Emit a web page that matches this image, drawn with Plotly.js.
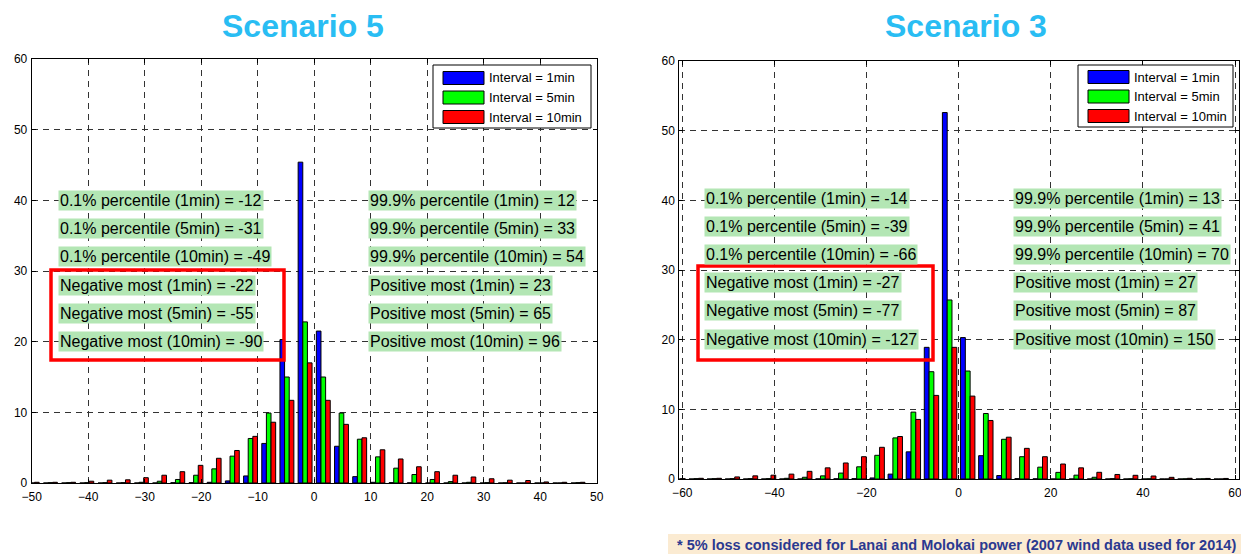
<!DOCTYPE html>
<html>
<head>
<meta charset="utf-8">
<script src="https://cdn.plot.ly/plotly-3.0.1.min.js"></script>
<style>html,body{margin:0;padding:0;background:#fff;}#chart{width:1241px;height:554px;}</style>
</head>
<body>
<div id="chart"></div>
<script>
// ---------- DATA ----------
// Scenario 5 (left): bin centres and histogram heights (%)
const binsS5 = [-49.91,-46.69,-43.47,-40.25,-37.03,-33.81,-30.59,-27.37,-24.15,-20.93,-17.71,-14.49,-11.27,-8.05,-4.83,-1.61,
                1.61,4.83,8.05,11.27,14.49,17.71,20.93,24.15,27.37,30.59,33.81,37.03,40.25,43.47,46.69];
const s5_1min  = [0,0,0,0,0,0,0,0,0.05,0.05,0.1,0.3,1.0,5.6,20.3,45.4,
                  21.5,5.2,0.9,0.1,0.05,0.03,0,0,0,0,0,0,0,0,0];
const s5_5min  = [0,0.05,0.05,0.05,0.05,0.05,0.1,0.25,0.5,1.1,2.0,3.8,6.3,9.9,15.0,22.8,
                  15.0,9.9,6.2,3.7,2.1,1.2,0.5,0.2,0.1,0.05,0.03,0,0,0,0.05];
const s5_10min = [0.1,0.1,0.1,0.25,0.4,0.45,0.75,1.1,1.6,2.5,3.5,4.6,6.6,8.6,11.7,17.0,
                  11.7,8.3,6.4,4.7,3.4,2.3,1.6,1.1,0.85,0.6,0.4,0.35,0.15,0.1,0.1];

// Scenario 3 (right)
const binsS3 = [-60.92,-56.99,-53.06,-49.13,-45.20,-41.27,-37.34,-33.41,-29.48,-25.55,-21.62,-17.69,-13.76,-9.83,-5.90,-1.97,
                1.97,5.90,9.83,13.76,17.69,21.62,25.55,29.48,33.41,37.34,41.27,45.20,49.13,53.06,56.99];
const s3_1min  = [0,0,0,0,0,0,0,0,0.02,0.03,0.05,0.15,0.7,3.9,18.9,52.6,
                  20.3,3.35,0.5,0.05,0.02,0,0,0,0,0,0,0,0,0,0];
const s3_5min  = [0,0.05,0.05,0.05,0.05,0.05,0.1,0.25,0.45,0.85,1.75,3.4,5.9,9.6,15.4,25.7,
                  15.5,9.4,5.7,3.2,1.7,0.95,0.55,0.25,0.05,0.03,0.02,0,0.02,0.02,0];
const s3_10min = [0.05,0.1,0.1,0.3,0.45,0.55,0.7,1.1,1.6,2.3,3.2,4.55,6.1,8.55,12.0,18.9,
                  11.9,8.4,6.0,4.4,3.2,2.15,1.6,0.96,0.65,0.53,0.43,0.24,0.1,0.08,0.08];

const seriesNames = ['Interval = 1min','Interval = 5min','Interval = 10min'];
const seriesColors = ['#0000ff','#00ff00','#ff0000'];

const titles = ['Scenario 5','Scenario 3'];
const xTicksS5 = [-50,-40,-30,-20,-10,0,10,20,30,40,50];
const xTicksS3 = [-60,-40,-20,0,20,40,60];
const yTicks = [0,10,20,30,40,50,60];

const statsS5Left  = ['0.1% percentile (1min) = -12','0.1% percentile (5min) = -31','0.1% percentile (10min) = -49',
                      'Negative most (1min) = -22','Negative most (5min) = -55','Negative most (10min) = -90'];
const statsS5Right = ['99.9% percentile (1min) = 12','99.9% percentile (5min) = 33','99.9% percentile (10min) = 54',
                      'Positive most (1min) = 23','Positive most (5min) = 65','Positive most (10min) = 96'];
const statsS3Left  = ['0.1% percentile (1min) = -14','0.1% percentile (5min) = -39','0.1% percentile (10min) = -66',
                      'Negative most (1min) = -27','Negative most (5min) = -77','Negative most (10min) = -127'];
const statsS3Right = ['99.9% percentile (1min) = 13','99.9% percentile (5min) = 41','99.9% percentile (10min) = 70',
                      'Positive most (1min) = 27','Positive most (5min) = 87','Positive most (10min) = 150'];
const footnote = '* 5% loss considered for Lanai and Molokai power (2007 wind data used for 2014)';

// ---------- LAYOUT HELPERS ----------
const W = 1241, H = 554, MT = 59, MB = 71, PH = H - MT - MB;
const px = v => v / W;                 // pixel x -> paper x
const py = v => (H - MB - v) / PH;     // pixel y -> paper y
const FONT = 'Liberation Sans, Arial, Helvetica, sans-serif';

const traces = [];
function addBars(bins, sets, xa, ya, w) {
  sets.forEach((vals, i) => {
    traces.push({
      type: 'bar', x: bins, y: vals, name: seriesNames[i],
      width: w, offset: -1.5 * w + i * w,
      marker: {color: seriesColors[i], line: {color: '#000', width: 1}},
      xaxis: xa, yaxis: ya, showlegend: false, hoverinfo: 'x+y+name'
    });
  });
}
addBars(binsS5, [s5_1min, s5_5min, s5_10min], 'x', 'y', 0.82);
addBars(binsS3, [s3_1min, s3_5min, s3_10min], 'x2', 'y2', 1.04);

const axBase = {
  showline: true, mirror: 'ticks', linecolor: '#000', linewidth: 1,
  ticks: 'inside', ticklen: 4, tickcolor: '#000',
  showgrid: true, gridcolor: '#333', gridwidth: 1, griddash: '6px,5px',
  zeroline: false, tickfont: {family: FONT, size: 12, color: '#000'},
  ticklabeloverflow: 'allow', fixedrange: true
};
const xExtra = {ticklabelstandoff: 3};
const yExtra = {ticklabelstandoff: 1};

const annotations = [];
const shapes = [];

// titles
[[303, titles[0]], [966, titles[1]]].forEach(([cx, t]) => {
  annotations.push({xref: 'paper', yref: 'paper', x: px(cx), y: py(26), xanchor: 'center', yanchor: 'middle',
    text: '<b>' + t + '</b>', showarrow: false, font: {family: FONT, size: 32, color: '#29bdf3'}});
});

// stat boxes
function addStats(list, leftPx, rowsPx) {
  list.forEach((t, i) => {
    annotations.push({xref: 'paper', yref: 'paper', x: px(leftPx), y: py(rowsPx[i]), xanchor: 'left', yanchor: 'middle',
      text: t, showarrow: false, bgcolor: '#b3e6b4', borderpad: 1,
      font: {family: FONT, size: 16, color: '#000'}});
  });
}
const rowsL = [200.5, 228.5, 256.5, 285, 313, 341.5];
const rowsR = [198.5, 226.5, 254.5, 282.5, 310.5, 339];
addStats(statsS5Left, 58, rowsL);
addStats(statsS5Right, 368, rowsL);
addStats(statsS3Left, 704, rowsR);
addStats(statsS3Right, 1013, rowsR);

// red highlight rectangles
[[51, 270, 284, 360], [698, 266, 933, 360]].forEach(([x0, y0, x1, y1]) => {
  shapes.push({type: 'rect', xref: 'paper', yref: 'paper', x0: px(x0), x1: px(x1), y0: py(y0), y1: py(y1),
    line: {color: '#ff0000', width: 3.5}, fillcolor: 'rgba(0,0,0,0)'});
});

// custom legends
function addLegend(x0, y0, x1, y1, swX0, swX1, textX, rows) {
  shapes.push({type: 'rect', xref: 'paper', yref: 'paper', x0: px(x0), x1: px(x1), y0: py(y0), y1: py(y1),
    line: {color: '#000', width: 1}, fillcolor: '#fff'});
  rows.forEach((ry, i) => {
    shapes.push({type: 'rect', xref: 'paper', yref: 'paper', x0: px(swX0), x1: px(swX1), y0: py(ry - 6.5), y1: py(ry + 6.5),
      line: {color: '#000', width: 1}, fillcolor: seriesColors[i]});
    annotations.push({xref: 'paper', yref: 'paper', x: px(textX), y: py(ry), xanchor: 'left', yanchor: 'middle',
      text: seriesNames[i], showarrow: false, font: {family: FONT, size: 13, color: '#000'}});
  });
}
addLegend(433, 65, 591, 128, 443, 484, 487, [78, 97.5, 117]);
addLegend(1078, 65, 1233, 127, 1088, 1129, 1132, [77, 96.5, 116]);

// footnote
shapes.push({type: 'rect', xref: 'paper', yref: 'paper', x0: px(668), x1: px(1241), y0: py(534), y1: py(554),
  line: {width: 0}, fillcolor: '#fbebd2', layer: 'below'});
annotations.push({xref: 'paper', yref: 'paper', x: px(675), y: py(545), xanchor: 'left', yanchor: 'middle',
  text: '<b>' + footnote + '</b>', showarrow: false, font: {family: FONT, size: 14.5, color: '#2b3990'}});

const layout = {
  width: W, height: H,
  margin: {l: 0, r: 0, t: MT, b: MB, pad: 0},
  paper_bgcolor: '#fff', plot_bgcolor: '#fff',
  barmode: 'overlay', showlegend: false,
  xaxis: Object.assign({}, axBase, xExtra, {domain: [31.7 / W, 596.7 / W], range: [-50, 50], tickmode: 'array', tickvals: xTicksS5, anchor: 'y'}),
  yaxis: Object.assign({}, axBase, yExtra, {domain: [0, 1], range: [0, 60], tickmode: 'array', tickvals: yTicks, anchor: 'x'}),
  xaxis2: Object.assign({}, axBase, xExtra, {domain: [679.3 / W, 1239.3 / W], range: [-60.65, 60.93], tickmode: 'array', tickvals: xTicksS3, anchor: 'y2'}),
  yaxis2: Object.assign({}, axBase, yExtra, {domain: [py(479), py(61)], range: [0, 60], tickmode: 'array', tickvals: yTicks, anchor: 'x2'}),
  annotations: annotations,
  shapes: shapes
};

Plotly.newPlot('chart', traces, layout, {displayModeBar: false, staticPlot: true});
</script>
</body>
</html>
